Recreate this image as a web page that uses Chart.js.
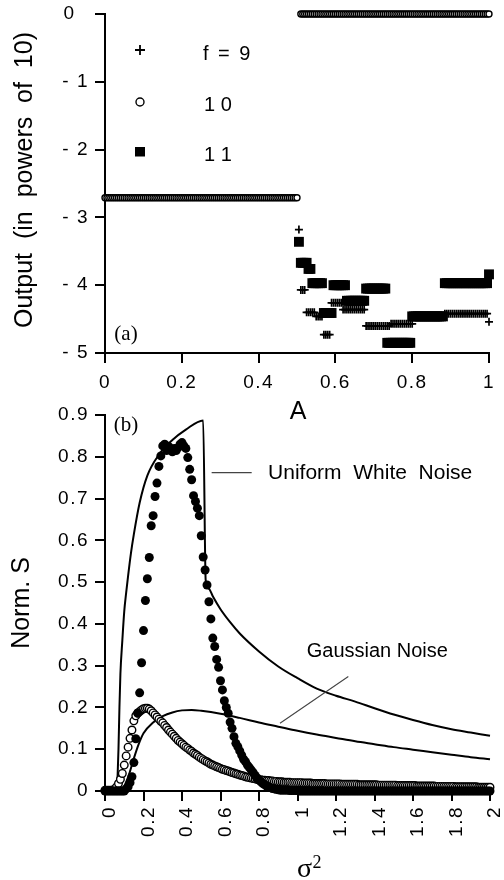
<!DOCTYPE html>
<html><head><meta charset="utf-8">
<script src="https://cdn.jsdelivr.net/npm/chart.js"></script>
<style>
html,body{margin:0;padding:0;background:#fff;}
body{width:504px;height:880px;position:relative;overflow:hidden;}
canvas{position:absolute;left:0;}
#ca{top:0;}
#cb{top:395px;}
</style></head><body>
<canvas id="ca" width="504" height="430"></canvas>
<canvas id="cb" width="504" height="485"></canvas>
<script>
// ---------- Panel (a) data ----------
const aGrid = [
0,0.005,0.01,0.015,0.02,0.025,0.03,0.035,0.04,0.045,
0.05,0.055,0.06,0.065,0.07,0.075,0.08,0.085,0.09,0.095,
0.1,0.105,0.11,0.115,0.12,0.125,0.13,0.135,0.14,0.145,
0.15,0.155,0.16,0.165,0.17,0.175,0.18,0.185,0.19,0.195,
0.2,0.205,0.21,0.215,0.22,0.225,0.23,0.235,0.24,0.245,
0.25,0.255,0.26,0.265,0.27,0.275,0.28,0.285,0.29,0.295,
0.3,0.305,0.31,0.315,0.32,0.325,0.33,0.335,0.34,0.345,
0.35,0.355,0.36,0.365,0.37,0.375,0.38,0.385,0.39,0.395,
0.4,0.405,0.41,0.415,0.42,0.425,0.43,0.435,0.44,0.445,
0.45,0.455,0.46,0.465,0.47,0.475,0.48,0.485,0.49,0.495,
0.5,0.505,0.51,0.515,0.52,0.525,0.53,0.535,0.54,0.545,
0.55,0.555,0.56,0.565,0.57,0.575,0.58,0.585,0.59,0.595,
0.6,0.605,0.61,0.615,0.62,0.625,0.63,0.635,0.64,0.645,
0.65,0.655,0.66,0.665,0.67,0.675,0.68,0.685,0.69,0.695,
0.7,0.705,0.71,0.715,0.72,0.725,0.73,0.735,0.74,0.745,
0.75,0.755,0.76,0.765,0.77,0.775,0.78,0.785,0.79,0.795,
0.8,0.805,0.81,0.815,0.82,0.825,0.83,0.835,0.84,0.845,
0.85,0.855,0.86,0.865,0.87,0.875,0.88,0.885,0.89,0.895,
0.9,0.905,0.91,0.915,0.92,0.925,0.93,0.935,0.94,0.945,
0.95,0.955,0.96,0.965,0.97,0.975,0.98,0.985,0.99,0.995,
1];
// f = 10 (open circles), one value per aGrid entry
const f10 = [
-2.71,-2.71,-2.71,-2.71,-2.71,-2.71,-2.71,-2.71,-2.71,-2.71,
-2.71,-2.71,-2.71,-2.71,-2.71,-2.71,-2.71,-2.71,-2.71,-2.71,
-2.71,-2.71,-2.71,-2.71,-2.71,-2.71,-2.71,-2.71,-2.71,-2.71,
-2.71,-2.71,-2.71,-2.71,-2.71,-2.71,-2.71,-2.71,-2.71,-2.71,
-2.71,-2.71,-2.71,-2.71,-2.71,-2.71,-2.71,-2.71,-2.71,-2.71,
-2.71,-2.71,-2.71,-2.71,-2.71,-2.71,-2.71,-2.71,-2.71,-2.71,
-2.71,-2.71,-2.71,-2.71,-2.71,-2.71,-2.71,-2.71,-2.71,-2.71,
-2.71,-2.71,-2.71,-2.71,-2.71,-2.71,-2.71,-2.71,-2.71,-2.71,
-2.71,-2.71,-2.71,-2.71,-2.71,-2.71,-2.71,-2.71,-2.71,-2.71,
-2.71,-2.71,-2.71,-2.71,-2.71,-2.71,-2.71,-2.71,-2.71,-2.71,
-2.71,null,0,0,0,0,0,0,0,0,
0,0,0,0,0,0,0,0,0,0,
0,0,0,0,0,0,0,0,0,0,
0,0,0,0,0,0,0,0,0,0,
0,0,0,0,0,0,0,0,0,0,
0,0,0,0,0,0,0,0,0,0,
0,0,0,0,0,0,0,0,0,0,
0,0,0,0,0,0,0,0,0,0,
0,0,0,0,0,0,0,0,0,0,
0,0,0,0,0,0,0,0,0,0,
0];
// f = 9 (plus) and f = 11 (squares): values for aGrid entries from A = 0.505 to 1
const f9 = [
-3.18,-4.07,-4.07,-4.07,-4.4,-4.4,-4.4,-4.4,-4.4,-4.46,
-4.46,-4.46,-4.46,-4.73,-4.73,-4.73,-4.73,-4.26,-4.26,-4.26,
-4.26,-4.26,-4.26,-4.36,-4.36,-4.36,-4.36,-4.36,-4.36,-4.36,
-4.36,-4.36,-4.36,-4.36,-4.36,-4.6,-4.6,-4.6,-4.6,-4.6,
-4.6,-4.6,-4.6,-4.6,-4.6,-4.6,-4.6,-4.6,-4.57,-4.57,
-4.57,-4.57,-4.57,-4.57,-4.57,-4.57,-4.57,-4.57,-4.57,-4.57,
-4.45,-4.45,-4.45,-4.45,-4.45,-4.45,-4.45,-4.45,-4.45,-4.45,
-4.45,-4.45,-4.45,-4.45,-4.45,-4.45,-4.42,-4.42,-4.42,-4.42,
-4.42,-4.42,-4.42,-4.42,-4.42,-4.42,-4.42,-4.42,-4.42,-4.42,
-4.42,-4.42,-4.42,-4.42,-4.42,-4.42,-4.42,-4.42,-4.42,-4.54];
const f11 = [
-3.36,-3.67,-3.67,-3.67,-3.67,-3.76,-3.76,-3.97,-3.97,-3.97,
-3.97,-3.97,-3.97,-4.41,-4.41,-4.41,-4.41,-4.41,-4.0,-4.0,
-4.0,-4.0,-4.0,-4.0,-4.0,-4.23,-4.23,-4.23,-4.23,-4.23,
-4.23,-4.23,-4.23,-4.23,-4.23,-4.05,-4.05,-4.05,-4.05,-4.05,
-4.05,-4.05,-4.05,-4.05,-4.05,-4.05,-4.85,-4.85,-4.85,-4.85,
-4.85,-4.85,-4.85,-4.85,-4.85,-4.85,-4.85,-4.85,-4.85,-4.46,
-4.46,-4.46,-4.46,-4.46,-4.46,-4.46,-4.46,-4.46,-4.46,-4.46,
-4.46,-4.46,-4.46,-4.46,-4.46,-4.46,-3.97,-3.97,-3.97,-3.97,
-3.97,-3.97,-3.97,-3.97,-3.97,-3.97,-3.97,-3.97,-3.97,-3.97,
-3.97,-3.97,-3.97,-3.97,-3.97,-3.97,-3.97,-3.97,-3.97,-3.84];
const aTicks = [0,0.2,0.4,0.6,0.8,1];
const aTickLabels = ['0','0.2','0.4','0.6','0.8','1'];
const outTicks = [-5,-4,-3,-2,-1,0];
const outTickLabels = ['- 5','- 4','- 3','- 2','- 1','0  '];
const legendLabels = ['f = 9','1 0','1 1'];
const titleA_y = 'Output  (in  powers  of  10)';
const titleA_x = 'A';

// ---------- Panel (b) data ----------
const sGrid = [
0,0.01,0.02,0.03,0.04,0.05,0.06,0.07,0.08,0.09,
0.1,0.11,0.12,0.13,0.14,0.15,0.16,0.17,0.18,0.19,
0.2,0.21,0.22,0.23,0.24,0.25,0.26,0.27,0.28,0.29,
0.3,0.31,0.32,0.33,0.34,0.35,0.36,0.37,0.38,0.39,
0.4,0.41,0.42,0.43,0.44,0.45,0.46,0.47,0.48,0.49,
0.5,0.51,0.52,0.53,0.54,0.55,0.56,0.57,0.58,0.59,
0.6,0.61,0.62,0.63,0.64,0.65,0.66,0.67,0.68,0.69,
0.7,0.71,0.72,0.73,0.74,0.75,0.76,0.77,0.78,0.79,
0.8,0.81,0.82,0.83,0.84,0.85,0.86,0.87,0.88,0.89,
0.9,0.91,0.92,0.93,0.94,0.95,0.96,0.97,0.98,0.99,
1,1.01,1.02,1.03,1.04,1.05,1.06,1.07,1.08,1.09,
1.1,1.11,1.12,1.13,1.14,1.15,1.16,1.17,1.18,1.19,
1.2,1.21,1.22,1.23,1.24,1.25,1.26,1.27,1.28,1.29,
1.3,1.31,1.32,1.33,1.34,1.35,1.36,1.37,1.38,1.39,
1.4,1.41,1.42,1.43,1.44,1.45,1.46,1.47,1.48,1.49,
1.5,1.51,1.52,1.53,1.54,1.55,1.56,1.57,1.58,1.59,
1.6,1.61,1.62,1.63,1.64,1.65,1.66,1.67,1.68,1.69,
1.7,1.71,1.72,1.73,1.74,1.75,1.76,1.77,1.78,1.79,
1.8,1.81,1.82,1.83,1.84,1.85,1.86,1.87,1.88,1.89,
1.9,1.91,1.92,1.93,1.94,1.95,1.96,1.97,1.98,1.99,
2];
const filledS = [
0,0,0,0,0,0,0,0,0,0,0,
0.005,0.01,0.02,0.034,0.068,0.125,0.187,0.235,0.307,0.384,
0.456,0.508,0.559,0.635,0.659,0.705,0.737,0.777,0.802,0.826,
0.83,0.815,0.825,0.82,0.812,0.82,0.815,0.822,0.83,0.834,
0.826,0.82,0.798,0.77,0.745,0.707,0.693,0.677,0.659,0.611,
0.56,0.529,0.493,0.453,0.412,0.366,0.346,0.315,0.296,0.264,
0.242,0.216,0.2,0.186,0.165,0.15,0.13,0.114,0.106,0.096,
0.086,0.076,0.07,0.062,0.056,0.05,0.044,0.037,0.031,0.026,
0.022,0.018,0.015,0.012,0.01,0.008,0.006,0.005,0.004,0.003,
0.002,0.002,0.002,0.002,0.002,0.001,0.001,0.001,0.001,0.001,
0,0,0,0,0,0,0,0,0,0,
0,0,0,0,0,0,0,0,0,0,
0,0,0,0,0,0,0,0,0,0,
0,0,0,0,0,0,0,0,0,0,
0,0,0,0,0,0,0,0,0,0,
0,0,0,0,0,0,0,0,0,0,
0,0,0,0,0,0,0,0,0,0,
0,0,0,0,0,0,0,0,0,0,
0,0,0,0,0,0,0,0,0,0,
0,0,0,0,0,0,0,0,0,0];
const openS = [
0.002,0.002,0.002,0.002,0.002,0.005,0.01,0.018,0.028,0.042,0.062,
0.084,0.105,0.126,0.146,0.168,0.18,0.186,0.19,0.194,0.197,
0.198,0.198,0.196,0.192,0.187,0.182,0.177,0.172,0.167,0.163,
0.157,0.152,0.146,0.141,0.136,0.131,0.126,0.121,0.117,0.113,
0.109,0.105,0.102,0.098,0.095,0.091,0.088,0.085,0.081,0.078,
0.075,0.072,0.07,0.067,0.064,0.062,0.06,0.058,0.056,0.054,
0.052,0.051,0.049,0.048,0.046,0.044,0.043,0.041,0.04,0.038,
0.037,0.036,0.034,0.033,0.032,0.031,0.03,0.029,0.028,0.027,
0.027,0.026,0.026,0.025,0.025,0.024,0.024,0.023,0.023,0.022,
0.022,0.022,0.021,0.021,0.021,0.021,0.02,0.02,0.02,0.02,
0.02,0.02,0.019,0.019,0.019,0.019,0.019,0.018,0.018,0.018,
0.018,0.018,0.018,0.018,0.017,0.017,0.017,0.017,0.017,0.017,
0.017,0.017,0.016,0.016,0.016,0.016,0.016,0.016,0.016,0.016,
0.016,0.015,0.015,0.015,0.015,0.015,0.015,0.015,0.015,0.015,
0.015,0.014,0.014,0.014,0.014,0.014,0.014,0.014,0.014,0.014,
0.014,0.013,0.013,0.013,0.013,0.013,0.013,0.013,0.013,0.013,
0.013,0.012,0.012,0.012,0.012,0.012,0.012,0.012,0.012,0.012,
0.012,0.011,0.011,0.011,0.011,0.011,0.011,0.011,0.011,0.011,
0.011,0.01,0.01,0.01,0.01,0.01,0.01,0.01,0.01,0.01,
0.01,0.01,0.01,0.009,0.009,0.009,0.009,0.009,0.009,0.009];
const uniX = [0,0.06,0.065,0.07,0.075,0.08,0.09,0.1,0.11,0.12,0.135,0.15,0.18,0.22,0.28,0.35,0.42,0.51,0.523,0.54,0.56,0.6,0.65,0.7,0.8,0.9,1.0,1.1,1.2,1.3,1.4,1.5,1.6,1.7,1.8,1.9,2.0];
const uniY = [0,0,0.03,0.1,0.2,0.28,0.36,0.43,0.475,0.515,0.57,0.615,0.69,0.755,0.805,0.84,0.865,0.887,0.505,0.484,0.466,0.435,0.404,0.377,0.334,0.298,0.27,0.245,0.228,0.214,0.198,0.183,0.17,0.158,0.148,0.14,0.132];
const gauX = [0,0.08,0.1,0.125,0.15,0.175,0.2,0.25,0.3,0.35,0.4,0.45,0.5,0.6,0.7,0.8,0.9,1.0,1.1,1.2,1.3,1.4,1.5,1.6,1.7,1.8,1.9,2.0];
const gauY = [0,0.003,0.012,0.04,0.078,0.112,0.138,0.164,0.179,0.188,0.193,0.194,0.192,0.185,0.175,0.164,0.154,0.144,0.135,0.127,0.119,0.112,0.105,0.099,0.093,0.087,0.081,0.076];
const sTicks = [0,0.2,0.4,0.6,0.8,1,1.2,1.4,1.6,1.8,2];
const sTickLabels = ['0','0.2','0.4','0.6','0.8','1','1.2','1.4','1.6','1.8','2'];
const nTicks = [0,0.1,0.2,0.3,0.4,0.5,0.6,0.7,0.8,0.9];
const nTickLabels = ['0','0.1','0.2','0.3','0.4','0.5','0.6','0.7','0.8','0.9'];
const titleB_y = 'Norm. S';
const noteUniform = 'Uniform  White  Noise';
const noteGauss = 'Gaussian Noise';

// ---------- helpers ----------
const SANS = '"Liberation Sans", Arial, Helvetica, sans-serif';
const SERIF = '"Liberation Serif", "Times New Roman", serif';
Chart.defaults.font.family = SANS;
Chart.defaults.color = '#000';

function txt(ctx, s, x, y, font, align, base, spacing, rot) {
  ctx.save();
  ctx.font = font; ctx.fillStyle = '#000';
  ctx.textAlign = align || 'left'; ctx.textBaseline = base || 'middle';
  ctx.letterSpacing = spacing || '0px';
  ctx.translate(x, y);
  if (rot) ctx.rotate(rot);
  ctx.fillText(s, 0, 0);
  ctx.restore();
}
function pts(xs, ys) { const out = []; for (let i = 0; i < xs.length; i++) { if (ys[i] !== null && ys[i] !== undefined) out.push({x: xs[i], y: ys[i]}); } return out; }

function axis(min, max, ticks, labels, fit, opts) {
  return Object.assign({
    type: 'linear', min: min, max: max,
    afterBuildTicks: s => { s.ticks = ticks.map(v => ({value: v})); },
    afterFit: fit,
    ticks: {autoSkip: false, color: '#000', font: {family: SANS, size: 19},
            callback: (v, i) => labels[i]},
    grid: {drawOnChartArea: false, drawTicks: true, tickLength: 10, lineWidth: 2, tickWidth: 2, tickColor: '#000', color: '#000'},
    border: {display: true, color: '#000', width: 2}
  }, opts || {});
}
function spacingPlugin(draw) {
  return {id: 'txt', beforeDraw(c) { c.ctx.letterSpacing = '1.5px'; },
          afterDraw(c) { c.ctx.letterSpacing = '0px'; draw(c); }};
}

// ---------- Chart (a) ----------
const aUpper = aGrid.slice(101);
new Chart(document.getElementById('ca'), {
  type: 'scatter',
  data: {datasets: [
    {label: '11', data: pts(aUpper, f11), pointStyle: 'rect', pointRadius: 7, backgroundColor: '#000', borderWidth: 0, order: 0, clip: false},
    {label: 'f = 9', data: pts(aUpper, f9), pointStyle: 'cross', pointRadius: 4, borderColor: '#000', borderWidth: 1.7, order: 1, clip: false},
    {label: '10', data: pts(aGrid, f10), pointStyle: 'circle', pointRadius: 3, backgroundColor: '#fff', borderColor: '#000', borderWidth: 1.4, order: 2, clip: false}
  ]},
  options: {
    responsive: false, animation: false, events: [],
    layout: {padding: {top: 14, right: 15, left: 0, bottom: 0}},
    plugins: {legend: {display: false}, tooltip: {enabled: false}},
    scales: {
      x: axis(0, 1, aTicks, aTickLabels, s => { s.height = 77; s.paddingLeft = 0; s.paddingRight = 0; },
              {ticks: {autoSkip: false, maxRotation: 0, minRotation: 0, padding: 8, color: '#000', font: {family: SANS, size: 19}, callback: (v, i) => aTickLabels[i]}}),
      y: axis(-5, 0, outTicks, outTickLabels, s => { s.width = 105; s.paddingTop = 0; s.paddingBottom = 0; },
              {ticks: {autoSkip: false, padding: 6, color: '#000', font: {family: SANS, size: 19}, callback: (v, i) => outTickLabels[i]}})
    }
  },
  plugins: [spacingPlugin(c => {
    const ctx = c.ctx;
    txt(ctx, titleA_y, 25.5, 180, '25px ' + SANS, 'center', 'middle', '0px', -Math.PI / 2);
    txt(ctx, titleA_x, (c.chartArea.left + c.chartArea.right) / 2 + 1, 412.5, '25px ' + SANS, 'center');
    txt(ctx, '(a)', 126, 334, '21px ' + SERIF, 'center');
    // legend markers
    ctx.save();
    ctx.strokeStyle = '#000'; ctx.fillStyle = '#000'; ctx.lineWidth = 1.8;
    ctx.beginPath(); ctx.moveTo(135, 50); ctx.lineTo(145, 50); ctx.moveTo(140, 45); ctx.lineTo(140, 55); ctx.stroke();
    ctx.beginPath(); ctx.lineWidth = 1.4; ctx.fillStyle = '#fff'; ctx.arc(140, 102, 4, 0, Math.PI * 2); ctx.fill(); ctx.stroke();
    ctx.fillStyle = '#000'; ctx.fillRect(135, 147, 10, 9.5);
    ctx.restore();
    txt(ctx, legendLabels[0], 203, 54.5, '20px ' + SANS, 'left', 'middle', '2px');
    txt(ctx, legendLabels[1], 204, 105.5, '20px ' + SANS, 'left');
    txt(ctx, legendLabels[2], 204, 155.7, '20px ' + SANS, 'left');
  })]
});

// ---------- Chart (b) ----------
new Chart(document.getElementById('cb'), {
  type: 'scatter',
  data: {datasets: [
    {label: 'filled', data: pts(sGrid, filledS), pointStyle: 'circle', pointRadius: 4.5, backgroundColor: '#000', borderWidth: 0, order: 0, clip: false},
    {label: 'open', data: pts(sGrid, openS), pointStyle: 'circle', pointRadius: 3.8, backgroundColor: '#fff', borderColor: '#000', borderWidth: 1.4, order: 1, clip: false},
    {label: 'Uniform White Noise', data: pts(uniX, uniY), showLine: true, pointRadius: 0, borderColor: '#000', borderWidth: 2, cubicInterpolationMode: 'monotone', fill: false, order: 2, clip: false},
    {label: 'Gaussian Noise', data: pts(gauX, gauY), showLine: true, pointRadius: 0, borderColor: '#000', borderWidth: 2, cubicInterpolationMode: 'monotone', fill: false, order: 3, clip: false}
  ]},
  options: {
    responsive: false, animation: false, events: [],
    layout: {padding: {top: 20, right: 14, left: 0, bottom: 0}},
    plugins: {legend: {display: false}, tooltip: {enabled: false}},
    scales: {
      x: axis(0, 2, sTicks, sTickLabels, s => { s.height = 89; s.paddingLeft = 0; s.paddingRight = 0; },
              {ticks: {autoSkip: false, maxRotation: 90, minRotation: 90, padding: 5, labelOffset: 5, color: '#000', font: {family: SANS, size: 19}, callback: (v, i) => sTickLabels[i]}}),
      y: axis(0, 0.9, nTicks, nTickLabels, s => { s.width = 105; s.paddingTop = 0; s.paddingBottom = 0; },
              {ticks: {autoSkip: false, padding: 6, color: '#000', font: {family: SANS, size: 19}, callback: (v, i) => nTickLabels[i]}})
    }
  },
  plugins: [spacingPlugin(c => {
    const ctx = c.ctx, X = c.scales.x, Y = c.scales.y;
    txt(ctx, titleB_y, 22.5, (c.chartArea.top + c.chartArea.bottom) / 2, '25px ' + SANS, 'center', 'middle', '0px', -Math.PI / 2);
    txt(ctx, '(b)', 126, 30, '21px ' + SERIF, 'center');
    ctx.save();
    ctx.strokeStyle = '#444'; ctx.lineWidth = 1.1;
    ctx.beginPath();
    ctx.moveTo(X.getPixelForValue(0.554), Y.getPixelForValue(0.762));
    ctx.lineTo(X.getPixelForValue(0.762), Y.getPixelForValue(0.762));
    ctx.moveTo(X.getPixelForValue(1.264), Y.getPixelForValue(0.274));
    ctx.lineTo(X.getPixelForValue(0.909), Y.getPixelForValue(0.162));
    ctx.stroke();
    ctx.restore();
    txt(ctx, noteUniform, X.getPixelForValue(0.847), Y.getPixelForValue(0.760), '21px ' + SANS, 'left');
    txt(ctx, noteGauss, X.getPixelForValue(1.048), Y.getPixelForValue(0.335), '20px ' + SANS, 'left');
    txt(ctx, '\u03C3', 297, 482, '28px ' + SERIF, 'left', 'alphabetic');
    txt(ctx, '2', 312.5, 473, '18px ' + SERIF, 'left', 'alphabetic');
  })]
});
</script>
</body></html>
